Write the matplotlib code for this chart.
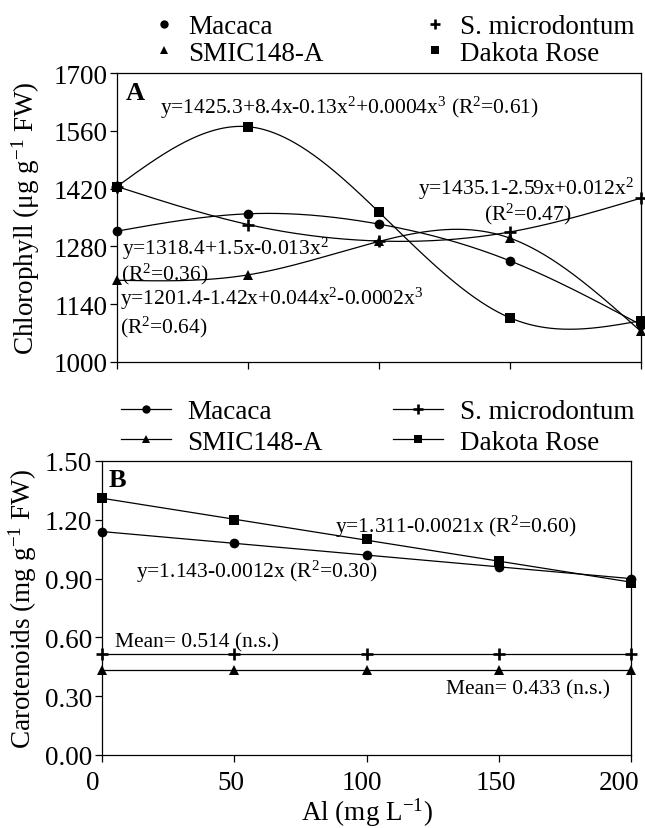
import numpy as np
import matplotlib
matplotlib.use("Agg")
import matplotlib.pyplot as plt
import matplotlib.transforms as mtransforms
from matplotlib.lines import Line2D

plt.rcParams['font.family'] = ['Liberation Serif', 'DejaVu Serif']
plt.rcParams['mathtext.fontset'] = 'custom'
plt.rcParams['mathtext.rm'] = 'Liberation Serif'
plt.rcParams['mathtext.it'] = 'Liberation Serif:italic'
plt.rcParams['mathtext.bf'] = 'Liberation Serif:bold'

# ---------------- data ----------------
al = [0, 50, 100, 150, 200]
legend_order = ['Macaca', 'SMIC148-A', 'S. microdontum', 'Dakota Rose']
markers = {'Macaca': 'o', 'S. microdontum': '+', 'SMIC148-A': '^', 'Dakota Rose': 's'}

# Panel A: chlorophyll (ug g-1 FW), means
chl_macaca = [1317, 1359, 1334, 1245, 1090]
chl_smicro = [1425, 1333, 1293, 1315, 1397]
chl_smic148 = [1198, 1211, 1292, 1300, 1074]
chl_dakota = [1425, 1570, 1363, 1107, 1100]

# Panel B: carotenoids (mg g-1 FW)
car_macaca = [1.14, 1.08, 1.02, 0.96, 0.90]
car_smicro = [0.514, 0.514, 0.514, 0.514, 0.514]
car_smic148 = [0.433, 0.433, 0.433, 0.433, 0.433]
car_dakota = [1.31, 1.20, 1.10, 0.99, 0.88]
car_degree = {'Macaca': 1, 'S. microdontum': 0, 'SMIC148-A': 0, 'Dakota Rose': 1}

chl_yticks = [1000, 1140, 1280, 1420, 1560, 1700]
car_yticks = [0.00, 0.30, 0.60, 0.90, 1.20, 1.50]
xticks = [0, 50, 100, 150, 200]


def natural_spline(x, y, xn):
    """Smooth curve through the points (natural cubic spline)."""
    x = np.asarray(x, float)
    y = np.asarray(y, float)
    n = len(x)
    h = np.diff(x)
    A = np.zeros((n, n))
    r = np.zeros(n)
    A[0, 0] = A[-1, -1] = 1
    for i in range(1, n - 1):
        A[i, i - 1] = h[i - 1]
        A[i, i] = 2 * (h[i - 1] + h[i])
        A[i, i + 1] = h[i]
        r[i] = 3 * ((y[i + 1] - y[i]) / h[i] - (y[i] - y[i - 1]) / h[i - 1])
    c = np.linalg.solve(A, r)
    b = (y[1:] - y[:-1]) / h - h * (2 * c[:-1] + c[1:]) / 3
    d = (c[1:] - c[:-1]) / (3 * h)
    idx = np.clip(np.searchsorted(x, xn) - 1, 0, n - 2)
    t = xn - x[idx]
    return y[idx] + b[idx] * t + c[idx] * t ** 2 + d[idx] * t ** 3


# ---------------- figure ----------------
W, H = 645, 829
fig = plt.figure(figsize=(W / 100, H / 100), dpi=100)
axA = fig.add_axes([117 / W, 1 - 363 / H, 524 / W, 289 / H])
axB = fig.add_axes([102 / W, 1 - 756 / H, 529 / W, 294 / H])

lw = 0.9
FS = 19.5
xs = np.linspace(0, 200, 400)

def marker_kw(m, big=True):
    if m == '+':
        return dict(marker='+', ms=8.5 if big else 7, mew=1.9)
    return dict(marker=m, ms=7 if big else 6, mew=0)

def style(ax):
    for s in ax.spines.values():
        s.set_linewidth(0.9)
    ax.tick_params(direction='out', length=5, width=0.9, labelsize=FS, pad=2)
    ax.set_xlim(0, 200)
    ax.set_xticks(xticks)

# ---- Panel A ----
for name, vals in [('Macaca', chl_macaca), ('S. microdontum', chl_smicro),
                   ('SMIC148-A', chl_smic148), ('Dakota Rose', chl_dakota)]:
    axA.plot(xs, natural_spline(al, vals, xs), color='black', lw=lw, zorder=2)
    axA.plot(al, vals, linestyle='none', color='black', clip_on=False, zorder=3,
             **marker_kw(markers[name]))
style(axA)
axA.set_ylim(1000, 1700)
axA.set_yticks(chl_yticks)
axA.set_xticklabels([])
axA.set_ylabel('Chlorophyll (μg g$^{-1}$ FW)', fontsize=FS, labelpad=8)

fsA = 15.5
axA.text(0.017, 0.972, 'A', transform=axA.transAxes, fontsize=19, fontweight='bold', va='top', ha='left')
axA.text(16.4, 1618, 'y=1425.3+8.4x-0.13x$^2$+0.0004x$^3$ (R$^2$=0.61)', fontsize=fsA, va='center')
axA.text(156, 1421, 'y=1435.1-2.59x+0.012x$^2$', fontsize=fsA, va='center', ha='center')
axA.text(157, 1359, '(R$^2$=0.47)', fontsize=fsA, va='center', ha='center')
axA.text(2, 1277, 'y=1318.4+1.5x-0.013x$^2$', fontsize=fsA, va='center')
axA.text(1.5, 1215, '(R$^2$=0.36)', fontsize=fsA, va='center')
axA.text(1.2, 1155, 'y=1201.4-1.42x+0.044x$^2$-0.0002x$^3$', fontsize=fsA, va='center')
axA.text(1.2, 1087, '(R$^2$=0.64)', fontsize=fsA, va='center')

handlesA = [Line2D([], [], linestyle='none', color='black', **marker_kw(markers[n], big=False))
            for n in legend_order]
axA.legend(handlesA, legend_order, ncol=2, loc='center left',
           bbox_to_anchor=(150 / W, 1 - 41 / H), bbox_transform=fig.transFigure,
           frameon=False, fontsize=FS, handlelength=1.0, handletextpad=0.42,
           columnspacing=3.6, labelspacing=0.05, borderaxespad=0, borderpad=0)

# ---- Panel B ----
for name, vals in [('Macaca', car_macaca), ('S. microdontum', car_smicro),
                   ('SMIC148-A', car_smic148), ('Dakota Rose', car_dakota)]:
    fit = np.polyfit(al, vals, car_degree[name])
    axB.plot(xs, np.polyval(fit, xs), color='black', lw=lw, zorder=2)
    axB.plot(al, vals, linestyle='none', color='black', clip_on=False, zorder=3,
             **marker_kw(markers[name]))
style(axB)
axB.set_ylim(0, 1.5)
axB.set_yticks(car_yticks)
axB.set_yticklabels([f'{v:.2f}' for v in car_yticks])
axB.set_ylabel('Carotenoids (mg g$^{-1}$ FW)', fontsize=FS, labelpad=4)
axB.set_xlabel('Al (mg L$^{-1}$)', fontsize=FS, labelpad=0)
axB.tick_params(axis='x', pad=6)
offsets = [-9, -3, -5, -3, -12]
for lab, dx in zip(axB.get_xticklabels(), offsets):
    lab.set_transform(lab.get_transform() +
                      mtransforms.ScaledTranslation(dx / 100, 0, fig.dpi_scale_trans))

fsB = 15.5
axB.text(0.013, 0.975, 'B', transform=axB.transAxes, fontsize=19, fontweight='bold', va='top', ha='left')
axB.text(88, 1.170, 'y=1.311-0.0021x (R$^2$=0.60)', fontsize=fsB, va='center')
axB.text(13, 0.940, 'y=1.143-0.0012x (R$^2$=0.30)', fontsize=fsB, va='center')
axB.text(4.8, 0.575, 'Mean= 0.514 (n.s.)', fontsize=fsB, va='center')
axB.text(130, 0.340, 'Mean= 0.433 (n.s.)', fontsize=fsB, va='center')

handlesB = [Line2D([], [], color='black', lw=lw, **marker_kw(markers[n], big=False))
            for n in legend_order]
axB.legend(handlesB, legend_order, ncol=2, loc='center left',
           bbox_to_anchor=(121 / W, 1 - 428 / H), bbox_transform=fig.transFigure,
           frameon=False, fontsize=FS, handlelength=1.85, handletextpad=0.6,
           columnspacing=2.6, labelspacing=0.2, borderaxespad=0, borderpad=0)

fig.savefig('out.png', dpi=100)
